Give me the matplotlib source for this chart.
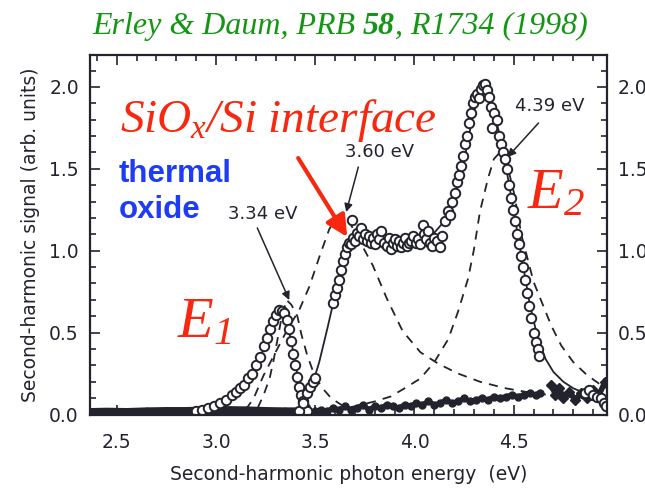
import matplotlib.pyplot as plt
from matplotlib.ticker import MultipleLocator

plt.rcParams['mathtext.fontset'] = 'custom'
plt.rcParams['mathtext.rm'] = 'Liberation Serif:italic'
plt.rcParams['mathtext.it'] = 'Liberation Serif:italic'
plt.rcParams['mathtext.bf'] = 'Liberation Serif:italic:bold'

INK = '#23232d'
RED = '#f7280f'
GREEN = '#149614'
BLUE = '#1e3cf5'

# E1 resonance data (open circles) and its fit
e1_x = [2.90, 2.93, 2.96, 2.99, 3.02, 3.05, 3.08, 3.10, 3.12, 3.14, 3.16, 3.18, 3.20,
        3.22, 3.24, 3.255, 3.27, 3.285, 3.30, 3.315, 3.33, 3.345, 3.36, 3.37, 3.38,
        3.39, 3.40, 3.41, 3.42, 3.43, 3.44, 3.45, 3.46]
e1_y = [0.02, 0.03, 0.04, 0.05, 0.07, 0.09, 0.12, 0.14, 0.16, 0.18, 0.22, 0.25, 0.30,
        0.35, 0.42, 0.47, 0.52, 0.57, 0.61, 0.64, 0.63, 0.62, 0.58, 0.52, 0.45,
        0.37, 0.30, 0.23, 0.17, 0.12, 0.08, 0.04, 0.02]
e1_fit_x = [2.37, 2.60, 2.80, 2.90, 3.00, 3.06, 3.12, 3.18, 3.23, 3.27, 3.30, 3.32,
            3.34, 3.36, 3.38, 3.40, 3.42, 3.44, 3.46, 3.47]
e1_fit_y = [0.0, 0.005, 0.015, 0.025, 0.055, 0.09, 0.15, 0.24, 0.37, 0.50, 0.60, 0.635,
            0.615, 0.55, 0.44, 0.31, 0.18, 0.08, 0.02, 0.0]

# interface / E2 data (open circles) and its fit
e2_x = [3.42, 3.44, 3.46, 3.475, 3.49, 3.50,
        3.59, 3.60, 3.61, 3.62, 3.63, 3.64, 3.65, 3.66, 3.67, 3.68, 3.685, 3.69, 3.70,
        3.71, 3.72, 3.73, 3.74, 3.75, 3.76, 3.77, 3.78, 3.79, 3.80, 3.81, 3.82, 3.83,
        3.845, 3.86, 3.87, 3.88, 3.89, 3.90, 3.91, 3.92, 3.93, 3.94, 3.95, 3.96, 3.97,
        3.98, 3.995, 4.01, 4.02, 4.03, 4.045, 4.05, 4.06, 4.07, 4.08, 4.09, 4.10, 4.115,
        4.13, 4.14, 4.155, 4.17, 4.18, 4.19, 4.205, 4.215, 4.225, 4.235, 4.245, 4.255,
        4.265, 4.275, 4.285, 4.295, 4.305, 4.315, 4.325, 4.335, 4.345, 4.355, 4.365,
        4.375, 4.385, 4.39, 4.40, 4.415, 4.425, 4.435, 4.445, 4.455, 4.465, 4.475, 4.485,
        4.495, 4.505, 4.515, 4.525, 4.535, 4.545, 4.555, 4.565, 4.575, 4.585, 4.60, 4.61,
        4.62, 4.625,
        4.86, 4.88, 4.90, 4.92, 4.94, 4.955, 4.965]
e2_y = [0.02, 0.07, 0.13, 0.17, 0.20, 0.22,
        0.68, 0.73, 0.77, 0.82, 0.88, 0.94, 0.98, 1.02, 1.05, 1.04, 1.19, 1.08, 1.06,
        1.11, 1.09, 1.14, 1.07, 1.10, 1.06, 1.09, 1.05, 1.08, 1.04, 1.10, 1.07, 1.12,
        1.05, 1.03, 1.08, 1.01, 1.05, 1.07, 1.03, 1.06, 1.02, 1.05, 1.08, 1.03, 1.05,
        1.06, 1.09, 1.05, 1.07, 1.04, 1.16, 1.10, 1.07, 1.12, 1.05, 1.03, 1.08, 1.06,
        1.02, 1.09, 1.18, 1.24, 1.22, 1.30, 1.35, 1.42, 1.46, 1.52, 1.58, 1.65,
        1.70, 1.78, 1.84, 1.90, 1.94, 1.96, 1.93, 1.99, 2.01, 2.02, 1.98,
        1.94, 1.88, 1.75, 1.84, 1.80, 1.70, 1.65, 1.60, 1.56, 1.50, 1.40, 1.32,
        1.25, 1.18, 1.10, 1.04, 0.97, 0.90, 0.82, 0.74, 0.66, 0.59, 0.50, 0.44,
        0.40, 0.36,
        0.13, 0.15, 0.12, 0.11, 0.10, 0.07, 0.05]
e2_fit_x = [3.41, 3.44, 3.48, 3.52, 3.56, 3.60, 3.63, 3.66, 3.69, 3.73, 3.80, 3.88,
            3.96, 4.04, 4.10, 4.15, 4.20, 4.25, 4.29, 4.32, 4.345, 4.37, 4.40, 4.43,
            4.46, 4.50, 4.54, 4.58, 4.62, 4.66, 4.70, 4.75, 4.80, 4.86, 4.92, 4.97]
e2_fit_y = [0.0, 0.06, 0.16, 0.32, 0.52, 0.73, 0.89, 1.01, 1.07, 1.09, 1.07, 1.05,
            1.05, 1.07, 1.11, 1.18, 1.31, 1.55, 1.80, 1.95, 2.00, 1.97, 1.86, 1.70,
            1.52, 1.24, 0.96, 0.68, 0.47, 0.34, 0.26, 0.20, 0.16, 0.13, 0.11, 0.10]

# thermal oxide signal (filled symbols)
ox1_x = [2.37, 2.45, 2.55, 2.65, 2.75, 2.85, 2.95, 3.05, 3.15, 3.25, 3.35, 3.45]
ox1_y = [0.010, 0.012, 0.010, 0.014, 0.016, 0.016, 0.020, 0.022, 0.020, 0.016, 0.014, 0.014]
ox2_x = [3.50, 3.53, 3.56, 3.59, 3.62, 3.65, 3.68, 3.71, 3.74, 3.77, 3.80, 3.83, 3.86,
         3.89, 3.92, 3.95, 3.98, 4.01, 4.04, 4.07, 4.10, 4.13, 4.16, 4.19, 4.22, 4.25,
         4.28, 4.31, 4.34, 4.37, 4.40, 4.43, 4.46, 4.49, 4.52, 4.55, 4.58, 4.61, 4.63]
ox2_y = [0.02, 0.03, 0.02, 0.04, 0.03, 0.05, 0.03, 0.04, 0.06, 0.03, 0.05, 0.04, 0.06,
         0.05, 0.04, 0.06, 0.05, 0.07, 0.06, 0.08, 0.06, 0.07, 0.09, 0.07, 0.08, 0.10,
         0.08, 0.09, 0.10, 0.09, 0.11, 0.10, 0.11, 0.12, 0.11, 0.12, 0.13, 0.12, 0.13]
ox3_x = [4.69, 4.71, 4.73, 4.75, 4.78, 4.81, 4.84, 4.87, 4.90, 4.93, 4.96]
ox3_y = [0.18, 0.12, 0.16, 0.10, 0.14, 0.09, 0.13, 0.10, 0.15, 0.12, 0.20]

# fitted resonance components (dashed)
c334_x = [3.21, 3.24, 3.27, 3.29, 3.31, 3.33, 3.355, 3.38, 3.41, 3.43, 3.46, 3.49,
          3.53, 3.58, 3.63, 3.69]
c334_y = [0.04, 0.12, 0.22, 0.33, 0.46, 0.59, 0.70, 0.67, 0.60, 0.49, 0.36, 0.26,
          0.17, 0.10, 0.06, 0.04]
c360_x = [3.15, 3.19, 3.24, 3.30, 3.36, 3.42, 3.47, 3.52, 3.57, 3.605, 3.635, 3.67,
          3.71, 3.75, 3.79, 3.86, 3.94, 4.03, 4.12, 4.22, 4.33, 4.46, 4.60, 4.75, 4.90, 4.97]
c360_y = [0.03, 0.10, 0.24, 0.38, 0.52, 0.64, 0.78, 0.96, 1.13, 1.20, 1.22, 1.18,
          1.09, 1.00, 0.91, 0.71, 0.51, 0.38, 0.31, 0.25, 0.20, 0.16, 0.13, 0.11, 0.09, 0.08]
c439_x = [3.60, 3.70, 3.80, 3.88, 3.95, 4.03, 4.10, 4.17, 4.22, 4.27, 4.30, 4.33, 4.37,
          4.40, 4.43, 4.46, 4.50, 4.54, 4.57, 4.60, 4.64, 4.69, 4.74, 4.80, 4.87, 4.94, 4.97]
c439_y = [0.03, 0.05, 0.08, 0.11, 0.16, 0.22, 0.32, 0.46, 0.63, 0.83, 1.01, 1.24, 1.44,
          1.56, 1.60, 1.56, 1.36, 1.09, 0.95, 0.81, 0.69, 0.54, 0.42, 0.32, 0.24, 0.18, 0.16]

fig = plt.figure(figsize=(6.45, 4.93), dpi=100)
ax = fig.add_axes([0.1395, 0.1582, 0.8016, 0.7302])

dash = dict(color=INK, lw=1.3, dashes=(5, 4))
for cx, cy in [(c334_x, c334_y), (c360_x, c360_y), (c439_x, c439_y)]:
    ax.plot(cx, cy, **dash)

ax.plot(e1_fit_x, e1_fit_y, color=INK, lw=1.3)
ax.plot(e2_fit_x, e2_fit_y, color=INK, lw=1.3)

ax.plot(ox1_x, ox1_y, color=INK, lw=7, marker='o', ms=6, solid_capstyle='round')
ax.plot(ox2_x, ox2_y, color=INK, lw=3.5, marker='o', ms=5)
ax.plot(ox3_x, ox3_y, color=INK, lw=4, marker='D', ms=5)

circ = dict(ls='none', marker='o', ms=6.8, mfc='white', mec=INK, mew=1.4)
ax.plot(e1_x, e1_y, **circ)
ax.plot(e2_x, e2_y, **circ)

ax.set_xlim(2.365, 4.97)
ax.set_ylim(-0.003, 2.195)
ax.set_xticks([2.5, 3.0, 3.5, 4.0, 4.5])
ax.set_yticks([0.0, 0.5, 1.0, 1.5, 2.0])
ax.xaxis.set_minor_locator(MultipleLocator(0.1))
ax.yaxis.set_minor_locator(MultipleLocator(0.1))
ax.tick_params(which='both', direction='in', top=True, right=True, labelright=True,
               color=INK, width=1.2, labelsize=13.5, labelcolor=INK)
ax.tick_params(which='major', length=7)
ax.tick_params(which='minor', length=4.5)
ax.tick_params(axis='y', which='major', pad=8)
ax.tick_params(axis='x', which='major', pad=13)
for s in ax.spines.values():
    s.set_linewidth(1.6)
    s.set_color(INK)

ax.set_xlabel('Second-harmonic photon energy  (eV)', fontsize=13.5, color=INK, labelpad=9)
ax.set_ylabel('Second-harmonic signal (arb. units)', fontsize=13.5, color=INK, labelpad=7)

# peak annotations
thin = dict(arrowstyle='-|>', color=INK, lw=1.1, mutation_scale=12, shrinkA=0, shrinkB=0)
ax.annotate('', xy=(3.369, 0.699), xytext=(3.208, 1.139), arrowprops=thin)
ax.annotate('', xy=(3.656, 1.236), xytext=(3.717, 1.511), arrowprops=thin)
ax.annotate('', xy=(4.469, 1.572), xytext=(4.625, 1.780), arrowprops=thin)
ax.text(3.235, 1.224, '3.34 eV', fontsize=13, color=INK, ha='center', va='center')
ax.text(3.823, 1.603, '3.60 eV', fontsize=13, color=INK, ha='center', va='center')
ax.text(4.680, 1.886, '4.39 eV', fontsize=13, color=INK, ha='center', va='center')

ax.annotate('', xy=(3.661, 1.084), xytext=(3.414, 1.566),
            arrowprops=dict(arrowstyle='-|>', color=RED, lw=3, mutation_scale=32,
                            shrinkA=0, shrinkB=0))

ax.text(2.517, 1.725, r'$SiO_x/Si\ interface$', fontsize=34, color=RED, va='baseline')
ax.text(2.507, 1.419, 'thermal', fontsize=22.5, color=BLUE, family='Liberation Sans',
        weight='bold', va='baseline')
ax.text(2.512, 1.200, 'oxide', fontsize=22.5, color=BLUE, family='Liberation Sans',
        weight='bold', va='baseline')
ax.text(2.804, 0.473, r'$E_1$', fontsize=42, color=RED, va='baseline')
ax.text(4.569, 1.261, r'$E_2$', fontsize=42, color=RED, va='baseline')

# citation line: italic serif with the volume number in bold, laid out piece by piece
cite = [('Erley & Daum, PRB ', 'normal'), ('58', 'bold'), (', R1734 (1998)', 'normal')]
renderer = fig.canvas.get_renderer()
pieces = []
for s, w in cite:
    t = fig.text(0, 0.947, s, fontsize=23, color=GREEN, family='Liberation Serif',
                 style='italic', weight=w, va='center')
    pieces.append(t)
widths = [p.get_window_extent(renderer).width / fig.bbox.width for p in pieces]
x0 = 0.527 - sum(widths) / 2
for p, w in zip(pieces, widths):
    p.set_x(x0)
    x0 += w

fig.savefig('out.png', dpi=100)
